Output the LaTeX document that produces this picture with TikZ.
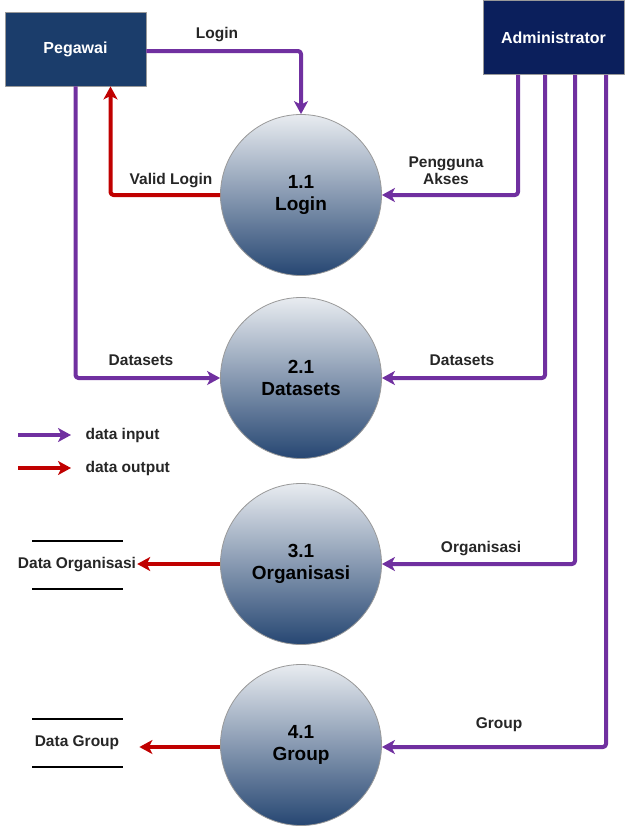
\documentclass[tikz,border=0pt]{standalone}
\usepackage{fontspec}
\setmainfont{Liberation Sans}
\usetikzlibrary{arrows.meta}
\definecolor{inflow}{HTML}{7030A0}
\definecolor{outflow}{HTML}{C00000}
\definecolor{pegfill}{HTML}{1B3D6B}
\definecolor{admfill}{HTML}{0B1F5C}
\definecolor{txt}{HTML}{262626}
\tikzset{
  entity/.style={draw=gray!80, line width=0.8pt, minimum width=141pt, minimum height=74pt,
    text=white, font=\fontsize{16}{18}\selectfont\bfseries},
  process/.style={circle, draw=gray!80, line width=0.8pt, minimum size=161pt, inner sep=0pt,
    top color=white!90!pegfill, bottom color=pegfill!95!white, text=black, align=center,
    font=\fontsize{19}{22}\selectfont\bfseries},
  flowlabel/.style={text=txt, align=center, font=\fontsize{15.5}{17}\selectfont\bfseries},
  inarrow/.style={draw=inflow, line width=4pt, rounded corners=3pt,
    -{Stealth[length=13pt,width=14pt,inset=3.5pt]}},
  outarrow/.style={draw=outflow, line width=4pt, rounded corners=3pt,
    -{Stealth[length=13pt,width=14pt,inset=3.5pt]}},
  storeline/.style={line width=2.2pt, black}
}
\begin{document}
\begin{tikzpicture}[x=1pt,y=-1pt,line cap=butt,line join=round]
        \useasboundingbox (0,0) rectangle (627,827);
        % entities
        \node[entity, fill=pegfill] (peg) at (75.5,49) {Pegawai};
        \node[entity, fill=admfill] (adm) at (553.5,37.5) {Administrator};
        % processes
        \node[process] (login) at (301,195) {1.1\\Login};
        \node[process] (dset) at (301,378) {2.1\\Datasets};
        \node[process] (orga) at (301,564) {3.1\\Organisasi};
        \node[process] (grp) at (301,745) {4.1\\Group};
        % data stores
        \node[flowlabel, inner sep=1pt] (dorg) at (77,565) {Data Organisasi};
        \node[flowlabel, inner sep=1pt] (dgrp) at (77,743) {Data Group};
        \draw[storeline] (32,541) -- (123,541);
        \draw[storeline] (32,589) -- (123,589);
        \draw[storeline] (32,719) -- (123,719);
        \draw[storeline] (32,767) -- (123,767);
        % flows
        \draw[inarrow] ([yshift=-2pt]peg.east) -| (login.north);
        \draw[outarrow] (login.west) -| ([xshift=35pt]peg.south);
        \draw[inarrow] (peg.south) |- (dset.west);
        \draw[inarrow] ([xshift=-35.5pt]adm.south) |- (login.east);
        \draw[inarrow] ([xshift=-8.5pt]adm.south) |- (dset.east);
        \draw[inarrow] ([xshift=21.5pt]adm.south) |- (orga.east);
        \draw[inarrow] ([xshift=52.5pt]adm.south) |- ([yshift=-2pt]grp.east);
        \draw[outarrow] (orga.west) -- (orga.west -| dorg.east);
        \draw[outarrow] ([yshift=-2pt]grp.west) -- ([xshift=19pt,yshift=-2pt]grp.west -| dgrp.east);
        % flow labels
        \node[flowlabel] (lbllogin) at (217,35) {Login};
        \node[flowlabel] (lblvalid) at (171,181) {Valid Login};
        \node[flowlabel] (lbldsl) at (141,360) {Datasets};
        \node[flowlabel] (lblakses) at (446,171) {Pengguna\\Akses};
        \node[flowlabel] (lbldsr) at (462,360) {Datasets};
        \node[flowlabel] (lblorg) at (481,549) {Organisasi};
        \node[flowlabel] (lblgrp) at (499,725) {Group};
        % legend
        \coordinate (lgin1) at (18,435);
        \coordinate (lgin2) at (71,435);
        \coordinate (lgout1) at (18,468);
        \coordinate (lgout2) at (71,468);
        \draw[inarrow] (lgin1) -- (lgin2);
        \draw[outarrow] (lgout1) -- (lgout2);
        \node[flowlabel, anchor=west] (lgintxt) at (82,435) {data input};
        \node[flowlabel, anchor=west] (lgouttxt) at (82,468) {data output};
\end{tikzpicture}
\end{document}
